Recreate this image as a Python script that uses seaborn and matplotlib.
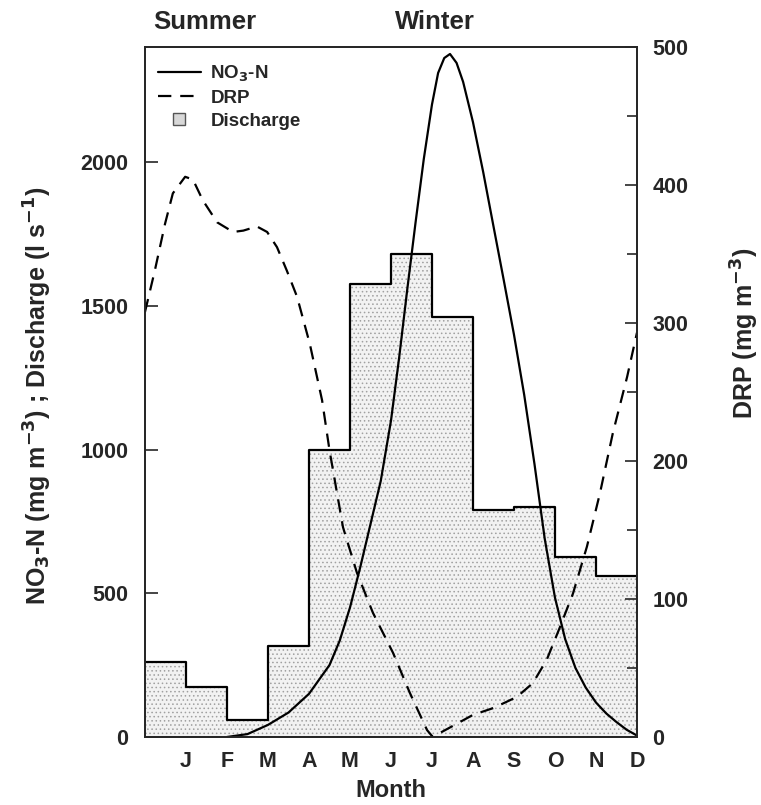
import matplotlib
matplotlib.use("Agg")
import matplotlib.pyplot as plt
from matplotlib.lines import Line2D
import numpy as np
import pandas as pd
import seaborn as sns

# monthly discharge (l s-1), one value per month bin
month_mid = np.arange(0.5, 12, 1.0)
discharge = [260, 175, 58, 318, 1000, 1575, 1680, 1460, 790, 800, 625, 560]

month_labels = ["J", "F", "M", "A", "M", "J", "J", "A", "S", "O", "N", "D"]

# NO3-N (mg m-3)
no3_x = [2.0, 2.5, 3.0, 3.5, 4.0, 4.5, 4.75, 5.0, 5.25, 5.5, 5.75, 6.0, 6.2,
         6.4, 6.6, 6.8, 7.0, 7.15, 7.3, 7.44, 7.6, 7.76, 8.0, 8.25, 8.5,
         8.75, 9.0, 9.25, 9.5, 9.75, 10.0, 10.25, 10.5, 10.75, 11.0, 11.25,
         11.5, 11.75, 12.0]
no3_y = [0, 10, 42, 85, 150, 250, 335, 450, 590, 740, 890, 1100, 1320,
         1560, 1790, 2010, 2200, 2310, 2362, 2376, 2345, 2279, 2139, 1965, 1777,
         1590, 1400, 1190, 950, 690, 485, 340, 240, 172, 120, 82,
         52, 25, 5]

# DRP (mg m-3)
drp_x = [0.0, 0.24, 0.49, 0.68, 0.98, 1.17, 1.41, 1.76, 2.15, 2.4, 2.73, 2.98,
         3.22, 3.46, 3.71, 4.02, 4.32, 4.5, 4.83, 5.17, 5.56, 6.05, 6.46, 6.88,
         7.02, 7.2, 8.0, 8.5, 9.07, 9.46, 9.8, 10.1, 10.44, 10.78, 11.1, 11.41,
         11.76, 12.0]
drp_y = [308, 338, 372, 394, 406, 404, 389, 373, 366, 367, 370, 366,
         355, 338, 319, 285, 244, 208, 152, 119, 90, 61, 32, 5,
         0, 3, 16, 21, 29, 39, 56, 78, 104, 138, 177, 220,
         261, 293]

flow = pd.DataFrame({"month": month_mid, "discharge": discharge})

sns.set_style("ticks")
plt.rcParams['font.family'] = ['Liberation Sans', 'DejaVu Sans']
plt.rcParams['font.weight'] = 'bold'
plt.rcParams['axes.labelweight'] = 'bold'
plt.rcParams['hatch.linewidth'] = 0.6
plt.rcParams['mathtext.default'] = 'bf'

fig = plt.figure(figsize=(7.61, 8.05), dpi=100)
ax = fig.add_axes([0.1905, 0.0845, 0.6465, 0.857])

# discharge as hatched step histogram
sns.histplot(data=flow, x="month", weights="discharge", bins=12,
             binrange=(0, 12), element="step", fill=True, ax=ax,
             facecolor="#f2f2f2", edgecolor="#a0a0a0", linewidth=0,
             hatch="....", alpha=1)
sns.histplot(data=flow, x="month", weights="discharge", bins=12,
             binrange=(0, 12), element="step", fill=False, ax=ax,
             color="black", linewidth=1.6)

sns.lineplot(x=no3_x, y=no3_y, ax=ax, color="black", linewidth=1.6)

ax2 = ax.twinx()
sns.lineplot(x=drp_x, y=drp_y, ax=ax2, color="black", linewidth=1.6,
             linestyle=(0, (6, 4)))

ax.set_xlim(0, 12)
ax.set_ylim(0, 2400)
ax2.set_ylim(0, 500)

ax.set_xticks(range(1, 13))
ax.set_xticklabels(month_labels)
ax.set_yticks([0, 500, 1000, 1500, 2000])
ax2.set_yticks([0, 100, 200, 300, 400, 500])
ax2.set_yticks(np.arange(50, 500, 100), minor=True)

for a in (ax, ax2):
    a.tick_params(direction="in", length=9, width=1.2, labelsize=15.5)
    a.tick_params(which="minor", direction="in", length=7, width=1.2)
    for s in a.spines.values():
        s.set_linewidth(1.3)
        s.set_visible(True)
ax.tick_params(axis="y", pad=12)
ax.tick_params(axis="x", pad=10)
ax2.tick_params(axis="y", pad=11)

ax.set_xlabel("Month", fontsize=17, labelpad=5)
ax.set_ylabel(r"NO$_3$-N (mg m$^{-3}$) ; Discharge (l s$^{-1}$)", fontsize=18,
              rotation=90, va="center", ha="center")
ax.yaxis.set_label_coords(-0.218, 0.495)
ax2.set_ylabel(r"DRP (mg m$^{-3}$)", fontsize=18, rotation=90,
               va="center", ha="center")
ax2.yaxis.set_label_coords(1.22, 0.585)

ax.text(1.46, 1.036, "Summer", transform=ax.get_xaxis_transform(),
        ha="center", va="center", fontsize=18.5, fontweight="bold")
ax.text(7.07, 1.036, "Winter", transform=ax.get_xaxis_transform(),
        ha="center", va="center", fontsize=18.5, fontweight="bold")

handles = [
    Line2D([], [], color="black", linewidth=1.6),
    Line2D([], [], color="black", linewidth=1.6, linestyle=(0, (6, 4))),
    Line2D([], [], color="#555555", marker="s", markersize=9,
           markerfacecolor="#d8d8d8", linestyle="none"),
]
labels = [r"NO$_3$-N", "DRP", "Discharge"]
ax2.legend(handles, labels, loc="upper left", bbox_to_anchor=(-0.008, 1.0),
           frameon=False, fontsize=13.5, handlelength=2.3, labelspacing=0.3,
           handletextpad=0.5)

fig.savefig("out.png", dpi=100)
